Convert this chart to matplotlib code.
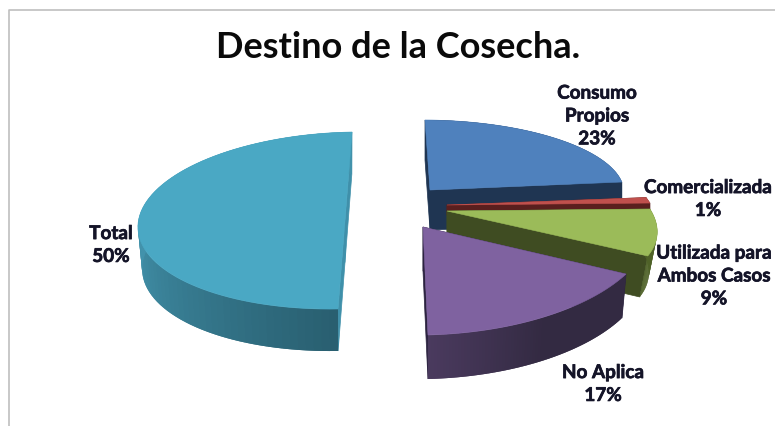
import numpy as np
import matplotlib
matplotlib.use('Agg')
import matplotlib.pyplot as plt
import matplotlib.patheffects as pe
from matplotlib.patches import Polygon
from matplotlib.colors import to_rgb

# ===== Данные =====
labels = ['Consumo\nPropios', 'Comercializada', 'Utilizada para\nAmbos Casos', 'No Aplica', 'Total']
values = [23, 1, 9, 17, 50]
title = 'Destino de la Cosecha.'

# ===== Оформление секторов =====
top_colors = ['#4F81BD', '#C0504D', '#9BBB59', '#7F62A0', '#4AA8C4']
# цвет стенки: (у начала дуги, у конца дуги) и участок дуги, где идёт переход
wall_colors = [('#1F3552', '#1F3552'), ('#5A1F1E', '#5A1F1E'), ('#4F6228', '#4F6228'),
               ('#332A42', '#4A3A5E'), ('#295F70', '#4292AB')]
wall_ramps = [(0, 1), (0, 1), (0, 1), (0.5, 1), (0, 0.5)]
inner_colors = ['#1F3552', '#5A1F1E', '#3F4C22', '#2C2340', '#3F90AA']
# центр сектора и матрица проекции (a, b, c, d): x = a*cos + b*sin, y = c*cos + d*sin
centers = [(430, 191), (447, 206), (447, 212), (423, 228), (345, 221.5)]
matrices = [(194, -5, 0.8, -70), (206, -42, 3.5, -87), (206, -42, 3.5, -87),
            (229, -5, -5.7, -108), (207, 7, -3.5, -88.5)]
depths = [40, 10, 41, 44, 42]
shrinks = [1.0, 1.0, 0.96, 0.98, 0.98]
# положение подписей
label_xy = [(597, 117), (708, 200), (714, 277), (603, 385), (111, 246)]


def project(ang, center, m, depth=0, shrink=1.0):
    c, s = np.cos(ang), np.sin(ang)
    x = center[0] + shrink * (m[0] * c + m[1] * s)
    y = center[1] + (m[2] * c + m[3] * s) + depth
    return np.column_stack([x, y])


def draw_slice(ax, a1, a2, i):
    center, m = centers[i], matrices[i]
    depth, shrink = depths[i], shrinks[i]
    ang = np.radians(np.linspace(a1, a2, 80))
    top = project(ang, center, m)
    bottom = project(ang, center, m, depth, shrink)
    apex = np.array(center, dtype=float)
    apex_low = apex + (0, depth)

    # внутренние стенки
    for k in (0, -1):
        quad = [apex, top[k], bottom[k], apex_low]
        ax.add_patch(Polygon(quad, fc=inner_colors[i], ec=inner_colors[i], lw=0.5))

    # внешняя стенка с градиентом; куски перекрываются, чтобы не было швов
    c1, c2 = np.array(to_rgb(wall_colors[i][0])), np.array(to_rgb(wall_colors[i][1]))
    r1, r2 = wall_ramps[i]
    n = len(ang)
    for k in range(n - 1):
        t = np.clip((k / (n - 2) - r1) / (r2 - r1), 0, 1)
        col = c1 + (c2 - c1) * t
        j = min(k + 2, n - 1)
        quad = [top[k], top[j], bottom[j], bottom[k]]
        ax.add_patch(Polygon(quad, fc=col, lw=0))

    # верхняя грань
    ax.add_patch(Polygon(np.vstack([apex, top]), fc=top_colors[i], ec=top_colors[i], lw=0.4))


fig = plt.figure(figsize=(7.75, 4.27), dpi=100)
ax = fig.add_axes([0, 0, 1, 1])
ax.set_xlim(0, 775)
ax.set_ylim(427, 0)
ax.axis('off')

# рамка диаграммы
ax.plot([8.5, 8.5, 775], [427, 10.5, 10.5], color='#BFBFBF', lw=1.2)

# углы секторов идут по часовой стрелке от 90 градусов
fractions = np.array(values) / sum(values)
edges = 90 - 360 * np.concatenate([[0], np.cumsum(fractions)])

for i in [4, 0, 1, 2, 3]:
    draw_slice(ax, edges[i], edges[i + 1], i)

ax.text(398, 48, title, ha='center', va='center', fontsize=26,
        fontweight='bold', family='Lato', color='#0A0A0A')

# обводка делает подписи плотнее, как в оригинале
bold = [pe.withStroke(linewidth=0.5, foreground='#141428')]
for lab, val, xy in zip(labels, values, label_xy):
    ax.text(xy[0], xy[1], f'{lab}\n{val}%', ha='center', va='center', fontsize=13.6,
            fontweight='bold', family='Lato', color='#141428', linespacing=1.42,
            path_effects=bold)

fig.savefig('out.png', dpi=100)
